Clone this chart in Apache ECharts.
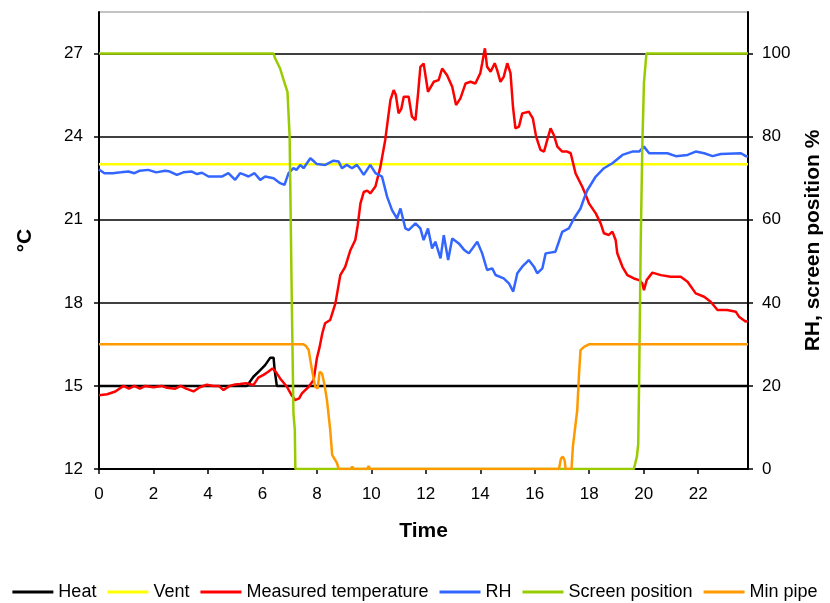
<!DOCTYPE html>
<html>
<head>
<meta charset="utf-8">
<script src="https://cdn.jsdelivr.net/npm/echarts@6/dist/echarts.min.js"></script>
<style>
html,body{margin:0;padding:0;background:#fff;}
#chart{width:830px;height:603px;}
</style>
</head>
<body>
<div id="chart"></div>
<script>
// ---- Data (hours of day) ----
const seriesNames = ['Heat', 'Vent', 'Measured temperature', 'RH', 'Screen position', 'Min pipe'];
const xEnd = 23.83;

const heatTime = [0, 5.43, 5.67, 5.92, 6.1, 6.29, 6.41, 6.45, 6.53, 23.83];
const heatValues = [15, 15, 15.33, 15.57, 15.75, 16.02, 16.02, 15.57, 15, 15];

const ventTime = [0, 23.83];
const ventValues = [23, 23];

const tempTime = [0, 0.3, 0.6, 0.9, 1.1, 1.3, 1.5, 1.7, 2.0, 2.3, 2.5, 2.8, 3.0, 3.2, 3.47, 3.7, 3.96, 4.2, 4.4, 4.57, 4.8, 5.0, 5.18, 5.4, 5.67, 5.85, 6.04, 6.2, 6.37, 6.5, 6.65, 6.9, 7.05, 7.2, 7.35, 7.45, 7.7, 7.88, 8.0, 8.1, 8.2, 8.3, 8.49, 8.68, 8.86, 9.04, 9.23, 9.41, 9.5, 9.6, 9.72, 9.85, 9.96, 10.15, 10.33, 10.51, 10.7, 10.82, 10.9, 11.0, 11.1, 11.19, 11.37, 11.49, 11.62, 11.72, 11.8, 11.92, 12.08, 12.29, 12.47, 12.6, 12.78, 12.97, 13.11, 13.27, 13.46, 13.64, 13.82, 14.0, 14.07, 14.17, 14.25, 14.38, 14.53, 14.62, 14.74, 14.86, 14.99, 15.11, 15.2, 15.29, 15.42, 15.54, 15.78, 15.93, 16.05, 16.21, 16.34, 16.46, 16.58, 16.7, 16.83, 17.01, 17.19, 17.32, 17.5, 17.74, 17.87, 17.99, 18.24, 18.42, 18.54, 18.72, 18.85, 18.97, 19.03, 19.22, 19.4, 19.64, 19.83, 19.95, 20.01, 20.11, 20.32, 20.63, 20.99, 21.36, 21.61, 21.91, 22.22, 22.46, 22.71, 23.07, 23.38, 23.5, 23.75, 23.83];
const tempValues = [14.66, 14.7, 14.8, 15.0, 14.9, 15.0, 14.9, 15.0, 14.95, 15.0, 14.93, 14.9, 15.0, 14.9, 14.8, 14.95, 15.04, 15.0, 15.0, 14.85, 15.0, 15.05, 15.07, 15.1, 15.03, 15.3, 15.4, 15.5, 15.63, 15.5, 15.27, 14.97, 14.7, 14.49, 14.55, 14.73, 14.97, 15.21, 16.0, 16.4, 16.9, 17.26, 17.38, 17.98, 19.0, 19.3, 19.9, 20.27, 20.8, 21.59, 22.0, 22.05, 21.95, 22.2, 22.9, 23.88, 25.32, 25.68, 25.5, 24.84, 25.0, 25.44, 25.44, 24.72, 24.6, 25.6, 26.52, 26.64, 25.62, 25.98, 26.04, 26.46, 26.22, 25.8, 25.14, 25.38, 25.92, 25.98, 25.92, 26.29, 26.65, 27.19, 26.52, 26.34, 26.65, 26.4, 25.98, 26.16, 26.65, 26.29, 25.08, 24.3, 24.36, 24.84, 24.9, 24.66, 24.0, 23.52, 23.46, 23.88, 24.3, 24.06, 23.64, 23.46, 23.46, 23.4, 22.67, 22.2, 21.9, 21.59, 21.23, 20.87, 20.51, 20.45, 20.57, 20.27, 19.79, 19.3, 19.0, 18.88, 18.82, 18.7, 18.46, 18.82, 19.09, 19.0, 18.94, 18.94, 18.76, 18.34, 18.22, 18.04, 17.74, 17.74, 17.68, 17.5, 17.32, 17.35];

const rhTime = [0, 0.2, 0.5, 0.8, 1.08, 1.3, 1.5, 1.81, 2.1, 2.43, 2.6, 2.86, 3.1, 3.41, 3.6, 3.78, 4.02, 4.3, 4.51, 4.75, 5.0, 5.18, 5.35, 5.49, 5.71, 5.92, 6.1, 6.41, 6.65, 6.81, 6.96, 7.14, 7.25, 7.39, 7.51, 7.76, 7.9, 8.0, 8.31, 8.61, 8.8, 8.92, 9.1, 9.29, 9.47, 9.6, 9.72, 9.96, 10.15, 10.39, 10.58, 10.76, 10.94, 11.07, 11.25, 11.37, 11.62, 11.8, 11.92, 12.08, 12.23, 12.35, 12.54, 12.66, 12.82, 12.97, 13.21, 13.4, 13.58, 13.89, 14.07, 14.25, 14.44, 14.56, 14.86, 15.05, 15.21, 15.36, 15.54, 15.78, 15.97, 16.09, 16.28, 16.4, 16.76, 17.01, 17.25, 17.44, 17.68, 17.81, 17.93, 18.24, 18.54, 18.85, 19.22, 19.58, 19.83, 20.01, 20.2, 20.87, 21.18, 21.61, 21.91, 22.22, 22.53, 22.83, 23.57, 23.75, 23.83];
const rhValues = [72.1, 71.2, 71.2, 71.4, 71.6, 71.2, 71.8, 72.0, 71.4, 71.8, 71.6, 70.8, 71.4, 71.6, 71.0, 71.3, 70.4, 70.4, 70.4, 71.2, 69.6, 71.2, 70.8, 70.4, 71.2, 69.6, 70.4, 70.0, 68.8, 68.4, 71.2, 72.4, 72.0, 73.2, 72.4, 74.8, 74.0, 73.4, 73.2, 74.2, 74.0, 72.4, 73.2, 72.4, 73.2, 72.0, 70.8, 73.2, 71.2, 70.4, 65.5, 62.3, 60.3, 62.7, 57.9, 57.5, 59.1, 57.9, 55.1, 57.9, 53.1, 54.7, 50.7, 56.3, 50.3, 55.5, 54.3, 52.8, 51.9, 54.7, 51.9, 47.9, 48.3, 46.7, 45.9, 44.7, 42.7, 47.1, 48.7, 50.3, 48.7, 47.1, 48.3, 51.9, 52.3, 57.1, 57.9, 60.3, 62.7, 65.1, 67.1, 70.4, 72.4, 73.6, 75.6, 76.4, 76.4, 77.6, 76.0, 76.0, 75.3, 75.6, 76.4, 76.0, 75.3, 75.8, 76.0, 75.3, 75.3];

const screenTime = [0, 6.41, 6.47, 6.65, 6.78, 6.92, 7.0, 7.08, 7.14, 7.19, 7.21, 19.64, 19.75, 19.8, 19.83, 19.89, 19.95, 20.01, 20.1, 23.83];
const screenValues = [100, 100, 98.8, 96.4, 93.6, 90.8, 80, 40, 13.4, 9.4, 0, 0, 3, 6, 20, 54, 78, 93, 100, 100];

const pipeTime = [0, 7.51, 7.6, 7.7, 7.82, 7.94, 8.03, 8.1, 8.19, 8.27, 8.37, 8.49, 8.56, 8.74, 8.8, 9.25, 9.3, 9.35, 9.85, 9.9, 9.95, 16.89, 16.96, 17.03, 17.1, 17.13, 17.35, 17.4, 17.56, 17.62, 17.68, 17.81, 17.99, 23.83];
const pipeValues = [30, 30, 29.6, 28.6, 23.8, 19.8, 19.4, 23.4, 23.0, 20.6, 16.6, 9.4, 3.4, 1.4, 0, 0, 0.6, 0, 0, 0.7, 0, 0, 2.5, 3, 2, 0, 0, 5.4, 14.2, 22.2, 28.6, 29.4, 30, 30];

// ---- Build ----
function pairs(t, v) { return t.map((x, i) => [x, v[i]]); }
const colors = ['#000000', '#FFFF00', '#FF0000', '#3366FF', '#99CC00', '#FF9900'];
const defs = [
  [heatTime, heatValues, 0],
  [ventTime, ventValues, 0],
  [tempTime, tempValues, 0],
  [rhTime, rhValues, 1],
  [screenTime, screenValues, 1],
  [pipeTime, pipeValues, 1]
];
const FONT = "'Liberation Sans', Arial, sans-serif";

const chart = echarts.init(document.getElementById('chart'), null, {renderer: 'canvas'});
chart.setOption({
  animation: false,
  backgroundColor: '#ffffff',
  textStyle: {fontFamily: FONT, color: '#000'},
  grid: {left: 99, right: 82, top: 12, bottom: 134, containLabel: false, outerBoundsMode: 'none', show: true, borderColor: '#888', borderWidth: 1, backgroundColor: 'transparent'},
  legend: {
    data: seriesNames,
    top: 583,
    left: 'center',
    padding: 0,
    icon: 'rect',
    itemWidth: 41,
    itemHeight: 3,
    itemGap: 11,
    textStyle: {fontFamily: FONT, fontSize: 18, color: '#000'}
  },
  xAxis: {
    type: 'value', min: 0, max: xEnd, interval: 2,
    name: 'Time', nameLocation: 'middle', nameGap: 52,
    nameTextStyle: {fontFamily: FONT, fontSize: 21, fontWeight: 'bold', color: '#000'},
    axisLine: {show: true, lineStyle: {color: '#000', width: 2}},
    axisTick: {show: true, inside: false, length: 5, lineStyle: {color: '#000', width: 1.5}},
    axisLabel: {fontFamily: FONT, fontSize: 17, color: '#000', margin: 17, showMaxLabel: false},
    splitLine: {show: false}
  },
  yAxis: [{
    type: 'value', position: 'left', min: 12, max: 28.5, interval: 3,
    name: '°C', nameLocation: 'middle', nameGap: 63,
    nameTextStyle: {fontFamily: FONT, fontSize: 21, fontWeight: 'bold', color: '#000'},
    axisLine: {show: true, lineStyle: {color: '#000', width: 2}},
    axisTick: {show: true, inside: false, length: 5, lineStyle: {color: '#000', width: 1.5}},
    axisLabel: {fontFamily: FONT, fontSize: 17, color: '#000', margin: 16, showMaxLabel: false},
    splitLine: {show: true, showMaxLine: false, showMinLine: false, lineStyle: {color: '#000', width: 1.5}}
  }, {
    type: 'value', position: 'right', min: 0, max: 110, interval: 20,
    name: 'RH, screen position %', nameLocation: 'middle', nameGap: 55,
    nameTextStyle: {fontFamily: FONT, fontSize: 21, fontWeight: 'bold', color: '#000'},
    axisLine: {show: true, lineStyle: {color: '#000', width: 2}},
    axisTick: {show: true, inside: false, length: 5, lineStyle: {color: '#000', width: 1.5}},
    axisLabel: {fontFamily: FONT, fontSize: 17, color: '#000', margin: 14, showMaxLabel: false},
    splitLine: {show: false}
  }],
  series: defs.map((d, i) => ({
    name: seriesNames[i],
    type: 'line',
    yAxisIndex: d[2],
    data: pairs(d[0], d[1]),
    showSymbol: false,
    symbol: 'none',
    smooth: false,
    color: colors[i],
    lineStyle: {color: colors[i], width: 2.5},
    z: 2 + i
  }))
});
</script>
</body>
</html>
